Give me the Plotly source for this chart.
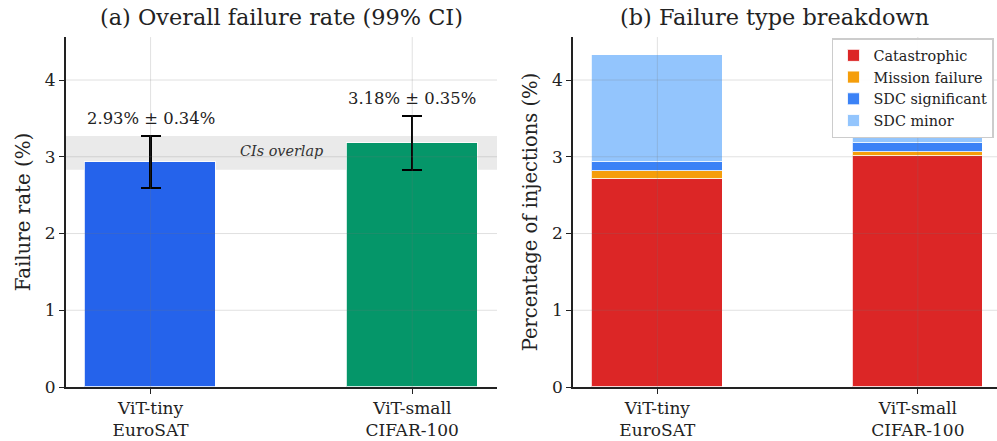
import plotly.graph_objects as go

categories = ["ViT-tiny<br>EuroSAT", "ViT-small<br>CIFAR-100"]
rates = [2.93, 3.18]
ci = [0.34, 0.35]
rate_colors = ["#2563eb", "#059669"]

type_names = ["Catastrophic", "Mission failure", "SDC significant", "SDC minor"]
type_colors = ["#dc2626", "#f59e0b", "#3b82f6", "#93c5fd"]
catastrophic = [2.71, 3.01]
mission = [0.10, 0.05]
sdc_sig = [0.12, 0.12]
sdc_minor = [1.40, 0.07]
type_values = [catastrophic, mission, sdc_sig, sdc_minor]

y_ticks = [0, 1, 2, 3, 4]

FONT = "DejaVu Serif"
xpos = [0, 1]

fig = go.Figure()

fig.add_trace(go.Bar(
    x=xpos, y=rates, width=0.5,
    marker=dict(color=rate_colors, line=dict(color="rgba(255,255,255,0.8)", width=1)),
    error_y=dict(type="data", array=ci, color="black", thickness=2.2, width=10),
    showlegend=False, xaxis="x", yaxis="y",
))

for name, col, vals in zip(type_names, type_colors, type_values):
    fig.add_trace(go.Bar(
        x=xpos, y=vals, name=name, width=0.5,
        marker=dict(color=col, line=dict(color="rgba(255,255,255,0.8)", width=1)),
        xaxis="x2", yaxis="y2",
    ))

for xi, r, c in zip(xpos, rates, ci):
    fig.add_annotation(x=xi, y=r + c, xref="x", yref="y", text=f"{r:.2f}% ± {c:.2f}%",
                       showarrow=False, xanchor="center", yanchor="bottom", yshift=6,
                       font=dict(family=FONT, size=16.4, color="#222"))

lo = max(r - c for r, c in zip(rates, ci))
hi = min(r + c for r, c in zip(rates, ci))
fig.add_shape(type="rect", xref="x domain", yref="y", x0=0, x1=1, y0=lo, y1=hi,
              fillcolor="rgba(128,128,128,0.17)", line=dict(width=0), layer="below")
fig.add_annotation(x=0.5, y=(lo + hi) / 2 + 0.02, xref="x", yref="y", text="<i>CIs overlap</i>",
                   showarrow=False, xanchor="center", yanchor="middle",
                   font=dict(family=FONT, size=14.4, color="#333"))

# faint grid drawn over the bars (as in the reference)
grid_col = "rgba(120,120,120,0.22)"
for xr, yr in (("x", "y"), ("x2", "y2")):
    for xv in xpos:
        fig.add_shape(type="line", xref=xr, yref=f"{yr} domain", x0=xv, x1=xv, y0=0, y1=1,
                      line=dict(color=grid_col, width=1), layer="above")
    for yv in y_ticks[1:]:
        fig.add_shape(type="line", xref=f"{xr} domain", yref=yr, x0=0, x1=1, y0=yv, y1=yv,
                      line=dict(color=grid_col, width=1), layer="above")

axis_common = dict(
    showline=True, linecolor="#222", linewidth=1.5, ticks="outside", ticklen=5,
    tickwidth=1.3, tickcolor="#222", showgrid=False, zeroline=False, automargin=False,
    tickfont=dict(family=FONT, size=17, color="#222"),
)

fig.update_layout(
    width=997, height=441,
    margin=dict(l=0, r=0, t=0, b=0, autoexpand=False),
    paper_bgcolor="white", plot_bgcolor="white",
    barmode="stack", bargap=0,
    font=dict(family=FONT, color="#222"),
    xaxis=dict(domain=[0.066, 0.4985], range=[-0.324, 1.324], tickvals=xpos,
               ticktext=categories, anchor="y", **axis_common),
    yaxis=dict(domain=[0.1224, 0.916], range=[0, 4.56], tickvals=y_ticks,
               anchor="x", title=dict(text="Failure rate (%)", font=dict(family=FONT, size=19.8), standoff=9),
               **axis_common),
    xaxis2=dict(domain=[0.5747, 1.0], range=[-0.324, 1.304], tickvals=xpos,
                ticktext=categories, anchor="y2", **axis_common),
    yaxis2=dict(domain=[0.1224, 0.916], range=[0, 4.56], tickvals=y_ticks,
                anchor="x2", title=dict(text="Percentage of injections (%)", font=dict(family=FONT, size=19.5), standoff=9),
                **axis_common),
    legend=dict(x=0.8345, y=1 - 38 / 441, xanchor="left", yanchor="top",
                bgcolor="rgba(255,255,255,0.92)", bordercolor="#ccc", borderwidth=1.5,
                font=dict(family=FONT, size=14.4, color="#222"), traceorder="normal",
                itemwidth=30),
)

fig.add_annotation(x=0.282, y=1 - 17 / 441, xref="paper", yref="paper",
                   text="(a) Overall failure rate (99% CI)", showarrow=False,
                   xanchor="center", yanchor="middle",
                   font=dict(family=FONT, size=22.4, color="#222"))
fig.add_annotation(x=0.777, y=1 - 17 / 441, xref="paper", yref="paper",
                   text="(b) Failure type breakdown", showarrow=False,
                   xanchor="center", yanchor="middle",
                   font=dict(family=FONT, size=22.4, color="#222"))

fig.write_html("out.html", config={"displayModeBar": False},
               post_script="document.body.style.margin='0';document.body.style.overflow='hidden';")
